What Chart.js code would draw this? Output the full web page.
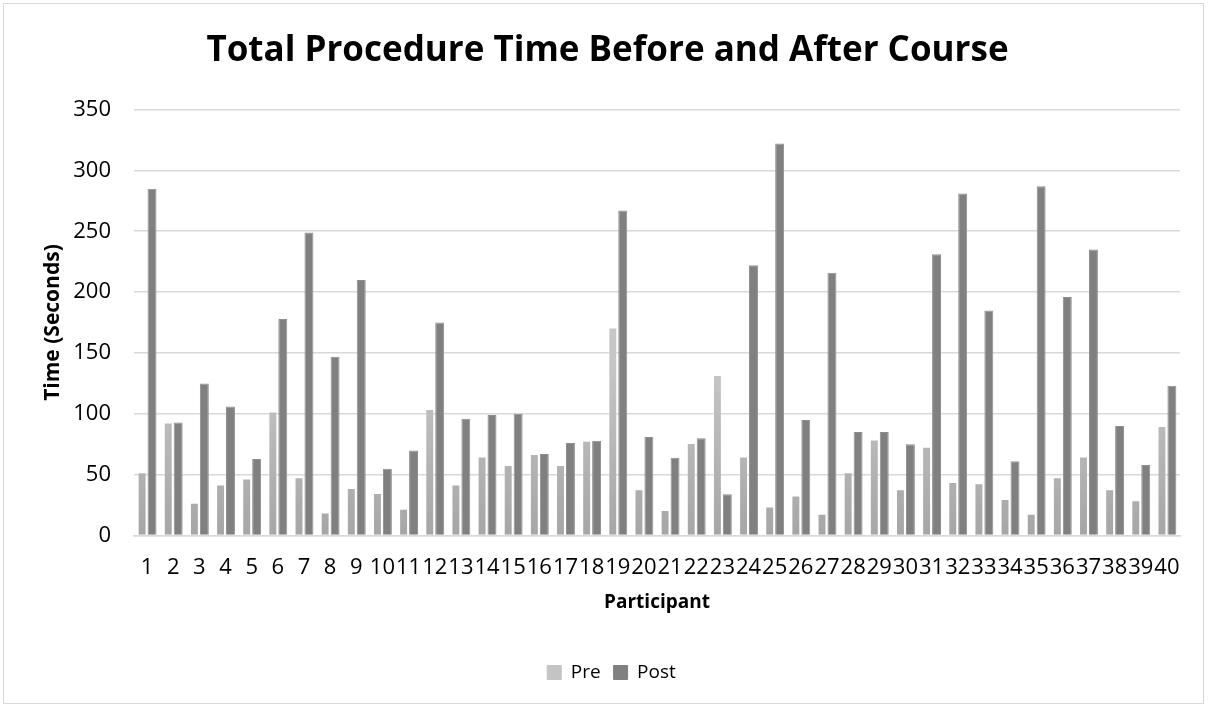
<!DOCTYPE html>
<html>
<head>
<meta charset="utf-8">
<script src="https://cdn.jsdelivr.net/npm/chart.js@4.4.1/dist/chart.umd.min.js"></script>
<style>
html,body{margin:0;padding:0;background:#fff;}
#wrap{position:absolute;left:0;top:0;width:1208px;height:708px;}
</style>
</head>
<body>
<div id="wrap"><canvas id="c" width="1208" height="708"></canvas></div>
<script>
const participants = ['1','2','3','4','5','6','7','8','9','10','11','12','13','14','15','16','17','18','19','20','21','22','23','24','25','26','27','28','29','30','31','32','33','34','35','36','37','38','39','40'];
const preTimes = [52,93,27,42,47,102,48,19,39,35,22,104,42,65,58,67,58,78,171,38,21,76,132,65,24,33,18,52,79,38,73,44,43,30,18,48,65,38,29,90];
const postTimes = [285,93,125,106,63,178,249,147,210,55,70,175,96,99,100,67,76,78,267,81,64,80,34,222,322,95,216,85,85,75,231,281,185,61,287,196,235,90,58,123];
const yMin = 0, yMax = 350, yStep = 50;

function preFill(context) {
  const chart = context.chart;
  const area = chart.chartArea;
  if (!area) return '#bfbfbf';
  const g = chart.ctx.createLinearGradient(0, area.top, 0, area.bottom);
  g.addColorStop(0, '#d0d0d0');
  g.addColorStop(0.6, '#c6c6c6');
  g.addColorStop(1, '#a6a6a6');
  return g;
}

const frame = {
  id: 'frame',
  beforeDraw(chart) {
    const ctx = chart.ctx;
    ctx.save();
    ctx.fillStyle = '#ffffff';
    ctx.fillRect(0, 0, chart.width, chart.height);
    ctx.strokeStyle = '#d9d9d9';
    ctx.lineWidth = 1;
    ctx.strokeRect(3.5, 3.5, 1200, 700);
    ctx.restore();
  },
  afterLayout(chart) {
    if (chart.titleBlock) { chart.titleBlock.left += 16; chart.titleBlock.right += 16; }
    if (chart.legend) { chart.legend.left += 20; chart.legend.right += 20; }
  }
};

new Chart(document.getElementById('c'), {
  type: 'bar',
  data: {
    labels: participants,
    datasets: [
      { label: 'Pre', data: preTimes, backgroundColor: preFill, borderColor: 'rgba(255,255,255,0.35)', borderWidth: 1,
        categoryPercentage: 0.76, barPercentage: 0.9 },
      { label: 'Post', data: postTimes, backgroundColor: '#808080', borderColor: '#8e8e8e', borderWidth: 1,
        categoryPercentage: 0.76, barPercentage: 0.9 }
    ]
  },
  options: {
    responsive: false,
    animation: false,
    layout: { padding: { left: 3, right: 28, top: 0, bottom: 16 } },
    plugins: {
      title: {
        display: true,
        text: 'Total Procedure Time Before and After Course',
        color: '#000',
        font: { family: 'Open Sans', size: 35, weight: 'bold' },
        padding: { top: 30, bottom: 37.5 }
      },
      legend: {
        position: 'bottom',
        labels: {
          color: '#000',
          font: { family: 'Open Sans', size: 19 },
          boxWidth: 14, boxHeight: 14, padding: 13,
          generateLabels(chart) {
            const items = Chart.defaults.plugins.legend.labels.generateLabels(chart);
            items[0].fillStyle = '#c4c4c4';
            items[0].strokeStyle = '#c4c4c4';
            items[1].strokeStyle = '#808080';
            return items;
          }
        }
      },
      tooltip: { enabled: false }
    },
    scales: {
      x: {
        afterFit(scale) { scale.height = 114.4; },
        grid: { display: false, drawTicks: false },
        border: { display: true, color: '#d9d9d9', width: 1.5 },
        ticks: { color: '#000', font: { family: 'Open Sans', size: 22 }, autoSkip: false, maxRotation: 0, minRotation: 0, padding: 19 },
        title: { display: true, text: 'Participant', color: '#000', font: { family: 'Open Sans', size: 19, weight: 'bold' }, padding: { top: 4, bottom: 36 } }
      },
      y: {
        min: yMin, max: yMax,
        afterFit(scale) { scale.width = 131; },
        grid: { color: '#d9d9d9', lineWidth: 1.5, drawTicks: false },
        border: { display: false },
        ticks: { stepSize: yStep, color: '#000', font: { family: 'Open Sans', size: 22 }, padding: 23 },
        title: { display: true, text: 'Time (Seconds)', color: '#000', font: { family: 'Open Sans', size: 21, weight: 'bold' }, padding: { top: 37, bottom: 0 } }
      }
    }
  },
  plugins: [frame]
});
</script>
</body>
</html>
